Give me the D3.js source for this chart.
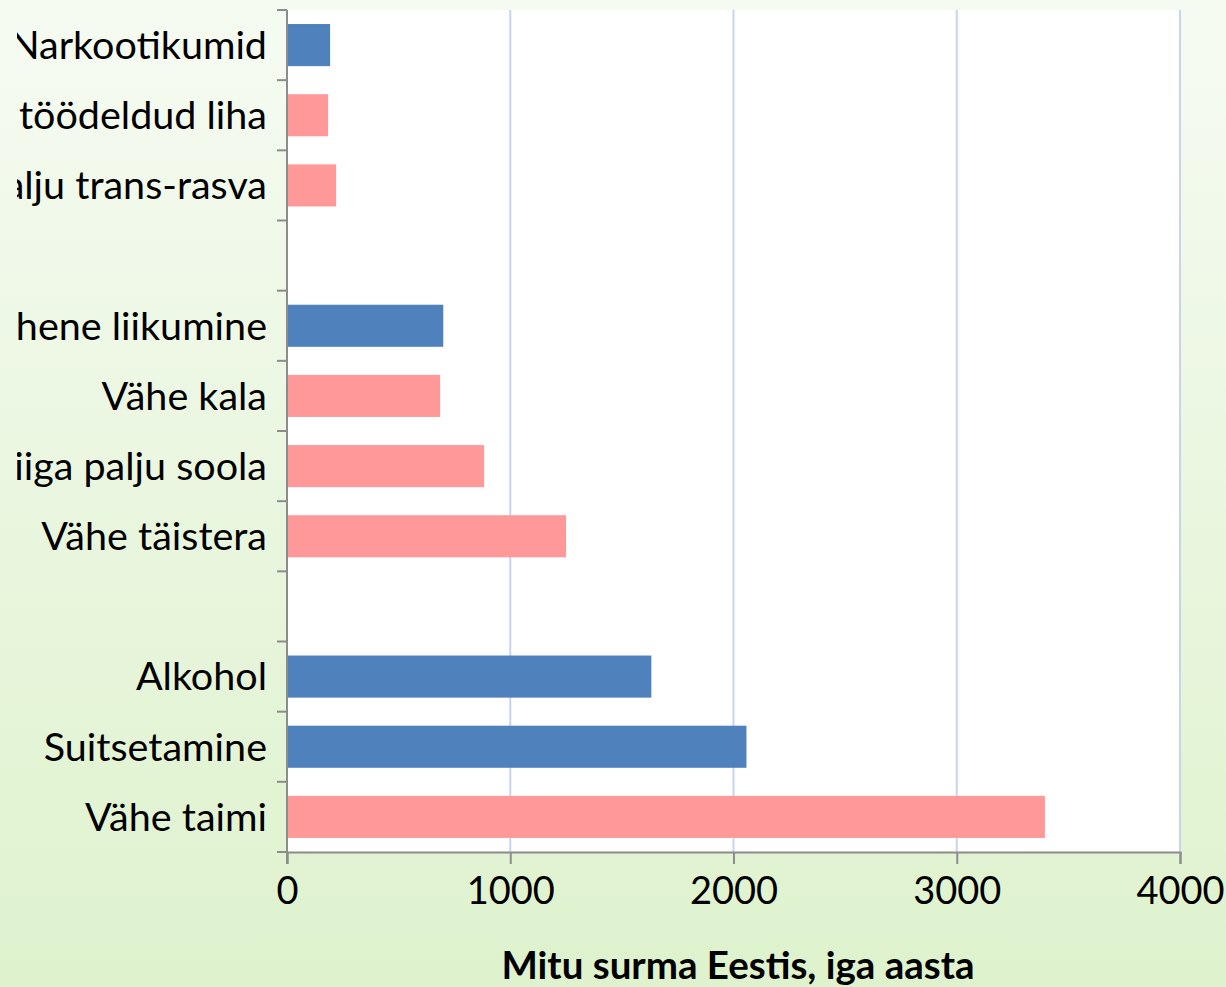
<!DOCTYPE html>
<html><head><meta charset="utf-8">
<script src="https://cdn.jsdelivr.net/npm/d3@7"></script>
<style>
html,body{margin:0;padding:0;overflow:hidden;}
body{width:1226px;height:987px;}
svg{display:block;font-family:Lato,"Noto Sans",sans-serif;}
</style></head><body>
<svg id="chart" width="1226" height="987"></svg>
<script>
const categories = ["Narkootikumid","Palju töödeldud liha","Palju trans-rasva","","Vähene liikumine","Vähe kala","Liiga palju soola","Vähe täistera"," ","Alkohol","Suitsetamine","Vähe taimi"];
const values = [193, 184, 220, null, 700, 686, 883, 1250, null, 1632, 2058, 3395];
const groups = ["a","b","b",null,"a","b","b","b",null,"a","a","b"];
const xTicks = [0,1000,2000,3000,4000];
const axisTitle = "Mitu surma Eestis, iga aasta";
const colors = {a:"#4f81bd", b:"#ff9999"};

const svg = d3.select("#chart");
const W = 1226, H = 987;
const m = {left:287, right:46, top:10, bottom:135};

const defs = svg.append("defs");
const g = defs.append("linearGradient").attr("id","bg").attr("x1",0).attr("y1",0).attr("x2",0).attr("y2",1);
g.append("stop").attr("offset","0%").attr("stop-color","#f6fbf2");
g.append("stop").attr("offset","100%").attr("stop-color","#def2cd");
defs.append("clipPath").attr("id","labclip").append("rect")
  .attr("x",17).attr("y",0).attr("width",m.left-17).attr("height",H);
svg.append("rect").attr("width",W).attr("height",H).attr("fill","url(#bg)");

const x = d3.scaleLinear().domain([0,4000]).range([m.left, W-m.right]);
const y = d3.scaleBand().domain(categories).range([m.top, H-m.bottom]).paddingInner(0.4).paddingOuter(0.2);
const yEdges = d3.scaleBand().domain(categories).range([m.top, H-m.bottom]);

svg.append("rect").attr("x",m.left).attr("y",m.top).attr("width",x(4000)-m.left).attr("height",H-m.bottom-m.top).attr("fill","#fff");

// grid
svg.append("g").selectAll("line").data(xTicks.slice(1)).join("line")
  .attr("x1",d=>x(d)).attr("x2",d=>x(d)).attr("y1",m.top).attr("y2",H-m.bottom)
  .attr("stroke","#c8d4ee").attr("stroke-width",2);

// bars
svg.append("g").selectAll("rect").data(categories.map((c,i)=>({c,v:values[i],g:groups[i]})).filter(d=>d.v!=null)).join("rect")
  .attr("x",x(0)).attr("y",d=>y(d.c)).attr("width",d=>x(d.v)-x(0)).attr("height",y.bandwidth())
  .attr("fill",d=>colors[d.g]);

// x axis
const xa = svg.append("g").attr("transform",`translate(0,${H-m.bottom})`)
  .call(d3.axisBottom(x).tickValues(xTicks).tickSize(12).tickPadding(13).tickFormat(d3.format("d")));
xa.select(".domain").attr("stroke","#8c8c8c").attr("stroke-width",2);
xa.selectAll(".tick line").attr("stroke","#8c8c8c").attr("stroke-width",2);
xa.selectAll("text").attr("font-size",38).attr("fill","#000").attr("font-family","Lato");

// y axis line & ticks at band edges
const edges = categories.map(c=>yEdges(c)).concat([H-m.bottom]);
svg.append("line").attr("x1",m.left).attr("x2",m.left).attr("y1",m.top).attr("y2",H-m.bottom+12).attr("stroke","#8c8c8c").attr("stroke-width",2);
svg.append("g").selectAll("line").data(edges).join("line")
  .attr("x1",m.left-10).attr("x2",m.left).attr("y1",d=>d).attr("y2",d=>d)
  .attr("stroke","#8c8c8c").attr("stroke-width",2);

// y labels
svg.append("g").attr("clip-path","url(#labclip)").selectAll("text").data(categories.filter(c=>c.trim()!=="")).join("text")
  .attr("x",m.left-20).attr("y",d=>yEdges(d)+yEdges.bandwidth()/2)
  .attr("dy","0.35em").attr("text-anchor","end").attr("font-size",39.5).attr("fill","#000")
  .text(d=>d);

svg.append("text").attr("x",738).attr("y",979).attr("text-anchor","middle")
  .attr("font-size",38.5).attr("font-weight","bold").attr("fill","#000").text(axisTitle);
</script>
</body></html>
